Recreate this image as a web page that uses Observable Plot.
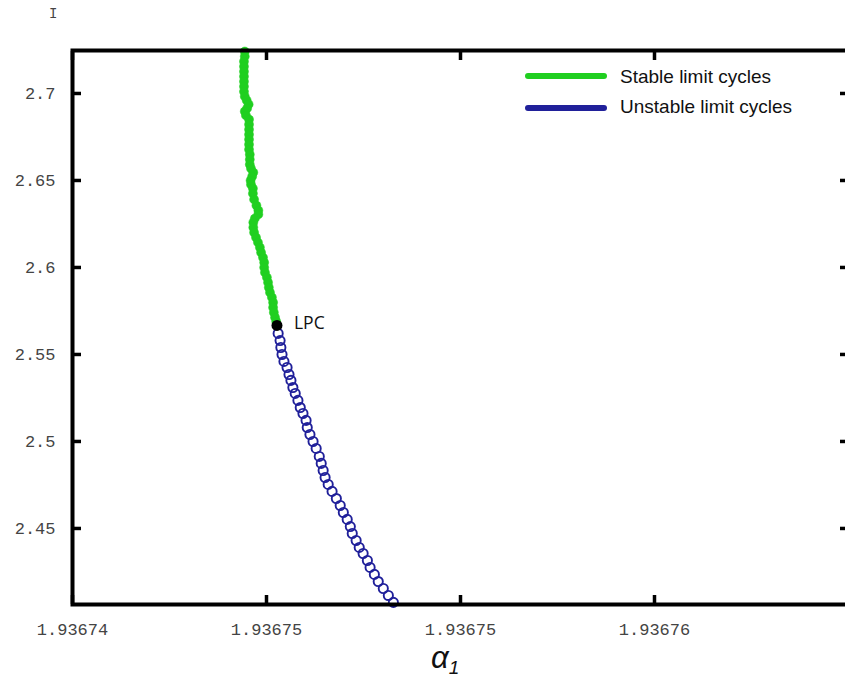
<!DOCTYPE html>
<html>
<head>
<meta charset="utf-8">
<script src="https://cdn.jsdelivr.net/npm/d3@7"></script>
<script src="https://cdn.jsdelivr.net/npm/@observablehq/plot@0.6"></script>
<style>
  html, body { margin: 0; padding: 0; background: #fff; }
  #wrap { position: relative; width: 845px; height: 681px; overflow: hidden; }
  .ov { position: absolute; white-space: nowrap; line-height: 1; }
  .leg-line { position: absolute; height: 6px; border-radius: 3px; width: 82px; left: 525px; }
  .leg-text { font-family: "Liberation Sans", Arial, sans-serif; font-size: 19px; color: #111; left: 620px; }
</style>
</head>
<body>
<div id="wrap"></div>
<script>
// ---- data ----
const stableX = [1.93674444,1.93674444,1.93674442,1.93674442,1.93674442,1.93674442,1.93674442,1.93674442,1.93674442,1.93674444,1.93674449,1.93674454,1.93674450,1.93674444,1.93674447,1.93674455,1.93674455,1.93674455,1.93674455,1.93674455,1.93674455,1.93674455,1.93674457,1.93674457,1.93674457,1.93674460,1.93674466,1.93674463,1.93674459,1.93674460,1.93674465,1.93674465,1.93674468,1.93674474,1.93674479,1.93674479,1.93674470,1.93674466,1.93674466,1.93674468,1.93674473,1.93674478,1.93674483,1.93674486,1.93674491,1.93674494,1.93674494,1.93674496,1.93674501,1.93674504,1.93674506,1.93674509,1.93674514,1.93674517,1.93674517,1.93674519,1.93674522,1.93674525];
const stableY = [2.7241,2.7213,2.7184,2.7155,2.7126,2.7098,2.7069,2.7040,2.7011,2.6983,2.6960,2.6937,2.6914,2.6897,2.6874,2.6851,2.6822,2.6793,2.6764,2.6736,2.6707,2.6678,2.6649,2.6621,2.6592,2.6569,2.6546,2.6523,2.6500,2.6477,2.6454,2.6425,2.6391,2.6356,2.6328,2.6305,2.6282,2.6259,2.6230,2.6201,2.6172,2.6144,2.6115,2.6086,2.6057,2.6029,2.6000,2.5971,2.5943,2.5914,2.5885,2.5856,2.5828,2.5799,2.5770,2.5741,2.5713,2.5690];
const unstableX = [1.93674530,1.93674535,1.93674537,1.93674540,1.93674545,1.93674553,1.93674558,1.93674563,1.93674568,1.93674574,1.93674581,1.93674587,1.93674594,1.93674602,1.93674605,1.93674612,1.93674620,1.93674628,1.93674636,1.93674641,1.93674646,1.93674651,1.93674659,1.93674669,1.93674680,1.93674690,1.93674698,1.93674708,1.93674716,1.93674721,1.93674731,1.93674739,1.93674749,1.93674760,1.93674767,1.93674778,1.93674788,1.93674801,1.93674814,1.93674827];
const unstableY = [2.5621,2.5580,2.5540,2.5500,2.5460,2.5425,2.5385,2.5351,2.5310,2.5276,2.5236,2.5195,2.5161,2.5121,2.5080,2.5040,2.5000,2.4960,2.4914,2.4874,2.4833,2.4793,2.4753,2.4713,2.4672,2.4632,2.4592,2.4552,2.4511,2.4471,2.4431,2.4391,2.4356,2.4316,2.4276,2.4236,2.4195,2.4155,2.4115,2.4075];
const lpcPoint = {x: 1.93674527, y: 2.5667, label: "LPC"};
const xTicks = [1.93674, 1.936745, 1.93675, 1.936755];
const xTickLabels = ["1.93674", "1.93675", "1.93675", "1.93676"];
const yTicks = [2.45, 2.5, 2.55, 2.6, 2.65, 2.7];
const yTickLabels = ["2.45", "2.5", "2.55", "2.6", "2.65", "2.7"];
const xDomain = [1.93674, 1.93676];
const yDomain = [2.4063, 2.7247];
const seriesNames = ["Stable limit cycles", "Unstable limit cycles"];
const seriesColors = ["#20cf20", "#20209a"];
const xLabel = "α";
const xLabelSub = "1";
const yLabel = "I";

const stable = stableX.map((x, i) => ({x, y: stableY[i]}));
const unstable = unstableX.map((x, i) => ({x, y: unstableY[i]}));

const mono = "'Liberation Mono', 'Courier New', monospace";
const blank = () => "";
const plot = Plot.plot({
  width: 845,
  height: 681,
  marginTop: 50,
  marginBottom: 77,
  marginLeft: 72,
  marginRight: -3,
  style: {background: "#fff", overflow: "hidden"},
  x: {domain: xDomain},
  y: {domain: yDomain},
  marks: [
    Plot.dot(stable, {x: "x", y: "y", r: 4.5, fill: seriesColors[0], stroke: seriesColors[0], strokeWidth: 0.5}),
    Plot.dot(unstable, {x: "x", y: "y", r: 4.6, fill: "none", stroke: seriesColors[1], strokeWidth: 1.9}),
    Plot.dot([lpcPoint], {x: "x", y: "y", r: 5.5, fill: "black"}),
    Plot.text([lpcPoint], {x: "x", y: "y", text: "label", dx: 17, dy: -2, textAnchor: "start", fontFamily: "'Open Sans', sans-serif", fontSize: 17.5, fill: "#111"}),
    Plot.axisX({anchor: "bottom", ticks: xTicks, tickSize: 9, dy: -9, tickPadding: 18, strokeWidth: 3.5, tickFormat: (d, i) => xTickLabels[i], fontFamily: mono, fontSize: 17, fill: "#444", label: null}),
    Plot.axisX({anchor: "top", ticks: xTicks, tickSize: 9, dy: 9, strokeWidth: 3.5, tickFormat: blank, label: null}),
    Plot.axisY({anchor: "left", ticks: yTicks, tickSize: 9, dx: 9, tickPadding: 17, strokeWidth: 3.5, tickFormat: (d, i) => yTickLabels[i], fontFamily: mono, fontSize: 17, fill: "#444", label: null}),
    Plot.axisY({anchor: "right", ticks: yTicks, tickSize: 9, dx: -9, strokeWidth: 3.5, tickFormat: blank, label: null}),
    Plot.frame({stroke: "black", strokeWidth: 4})
  ]
});
const wrap = document.getElementById("wrap");
plot.style.position = "absolute";
plot.style.left = "0px";
plot.style.top = "0px";
wrap.appendChild(plot);

function ov(html, cls, css) {
  const d = document.createElement("div");
  d.className = cls;
  d.innerHTML = html;
  Object.assign(d.style, css);
  wrap.appendChild(d);
  return d;
}
// legend
const legTops = [73, 105];
const legTextTops = [67, 97];
seriesNames.forEach((name, i) => {
  ov("", "leg-line", {top: legTops[i] + "px", background: seriesColors[i]});
  ov(name, "ov leg-text", {top: legTextTops[i] + "px"});
});
// axis titles
ov(yLabel, "ov", {left: "49px", top: "7px", fontFamily: mono, fontSize: "14px", color: "#444"});
ov(`<i>${xLabel}<sub style="font-size:19px;vertical-align:-6px;">${xLabelSub}</sub></i>`, "ov",
   {left: "431px", top: "646px", fontFamily: "'Liberation Sans', Arial, sans-serif", fontSize: "31px", lineHeight: "0.8", color: "#111"});
</script>
</body>
</html>
